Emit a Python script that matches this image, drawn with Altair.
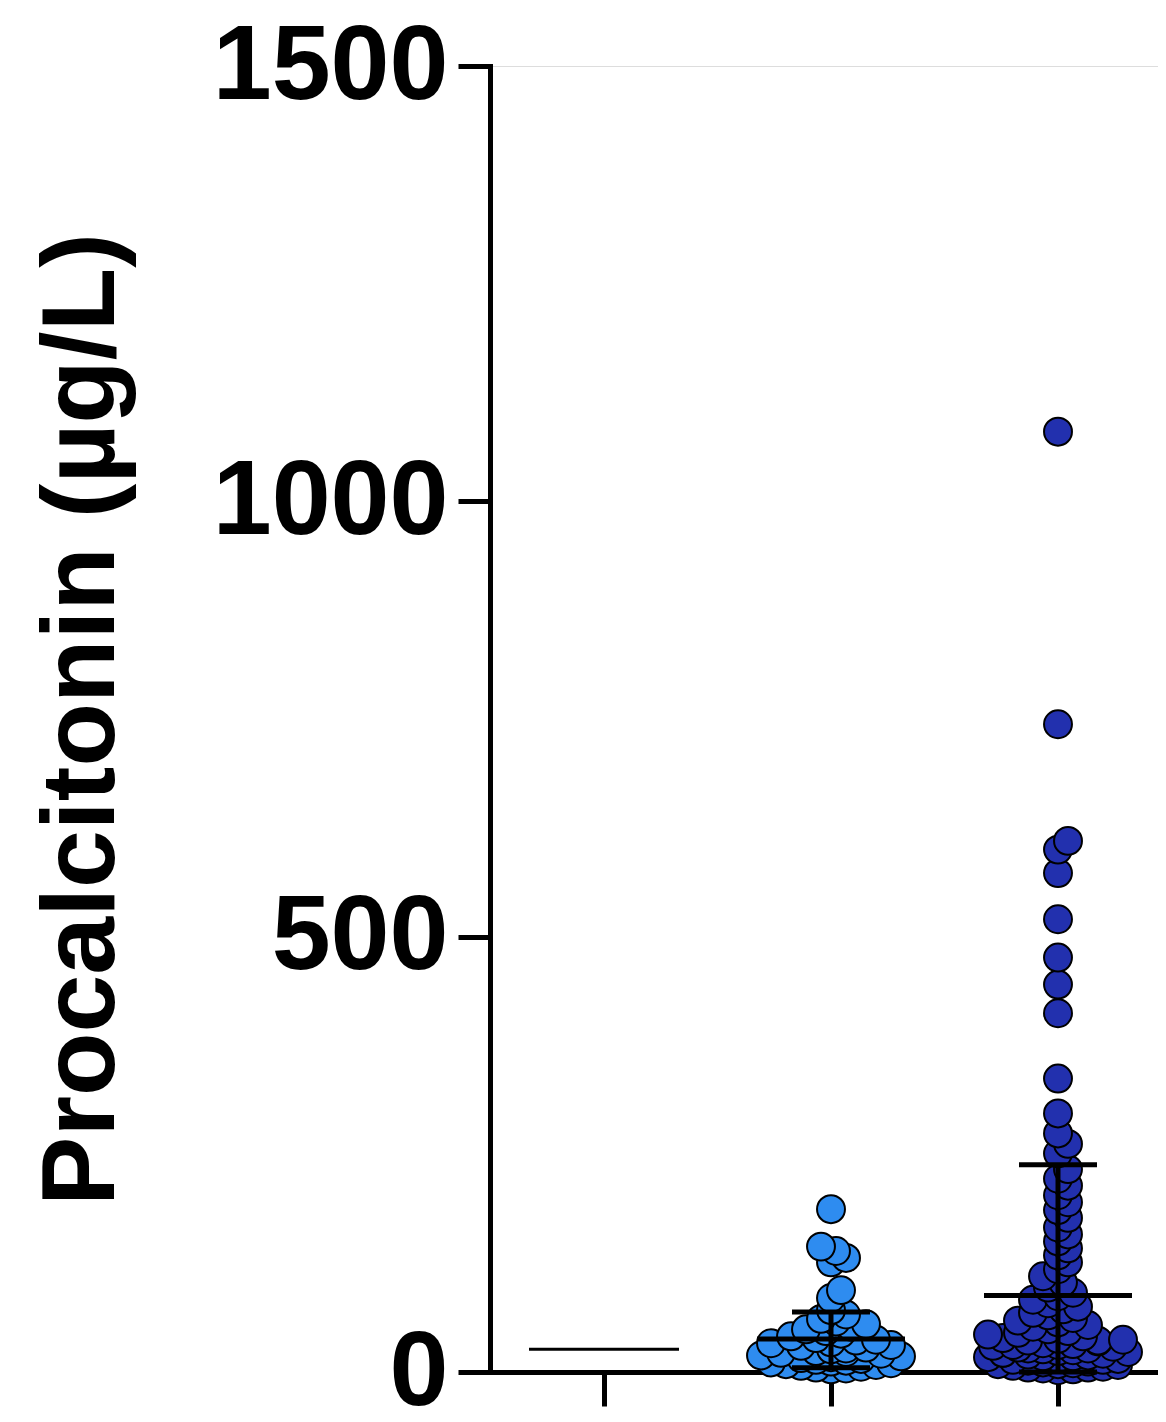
import altair as alt
import pandas as pd
import math

# ---- data ----
groups = ["Group 1", "Group 2", "Group 3"]
group_colors = ["#2E8CF0", "#2E8CF0", "#2230AE"]

group2_values = [187, 144, 139, 131, 126, 94, 85, 71, 66, 61, 58, 55, 52, 49, 47,
                 44, 41, 39, 37, 36, 34, 33, 31, 30, 28, 27, 26, 24, 23, 22, 21,
                 19, 18, 17, 16, 15, 14, 13, 12, 11, 10, 9, 8, 7, 6, 5, 4, 3]

group3_values = [1080, 744, 610, 600, 573, 520, 476, 445, 412, 337, 297, 274, 262, 251,
                 233, 222, 214, 203, 195, 186, 177, 166, 158, 150, 142, 134, 126, 118,
                 110, 103, 97, 91,
                 87, 83, 79, 75, 72, 68, 65, 62, 59, 57, 54, 52, 49, 47, 45, 43, 41, 39,
                 38, 37, 36, 35, 33, 32, 31, 30, 29, 28, 27, 26, 25, 24, 23, 22, 21, 20,
                 19, 18, 17, 16, 15, 14, 13, 12, 11, 10, 9, 8, 7, 6, 5, 4, 3, 2,
                 36, 31, 27, 22, 18, 14, 9, 5]

mean_values = [26, 38, 88]
sd_upper = [None, 69, 238]
sd_lower = [None, 5, 0]

y_ticks = [0, 500, 1000, 1500]
y_title = "Procalcitonin (µg/L)"

# ---- layout constants ----
PLOT_W = 668
PLOT_H = 1306
Y_MAX = 1500
PX_PER_GROUP = 227
FIRST_OFFSET = 114
X_DOMAIN = [-FIRST_OFFSET / PX_PER_GROUP, (PLOT_W - FIRST_OFFSET) / PX_PER_GROUP]
PX_PER_UNIT = PLOT_H / Y_MAX
FONT = "Liberation Sans"


def swarm(values, dmin=12.0, step=5.0, max_off=74.0):
    """Simple beeswarm: horizontal offsets (in group units), overlap allowed."""
    cands = [0.0]
    n = 1
    while n * step <= max_off:
        cands += [n * step, -n * step]
        n += 1
    placed = []
    out = []
    for v in sorted(values):
        y = v * PX_PER_UNIT
        best, best_cnt = None, None
        for off in cands:
            cnt = sum(1 for (px, py) in placed if math.hypot(px - off, py - y) < dmin)
            if cnt == 0:
                best = off
                break
            if best_cnt is None or cnt < best_cnt:
                best, best_cnt = off, cnt
        placed.append((best, y))
        out.append((v, best / PX_PER_GROUP))
    return out


rows = []
for gi, vals in [(1, group2_values), (2, group3_values)]:
    for v, off in swarm(vals):
        rows.append({"group": groups[gi], "gidx": gi, "x": gi + off, "value": v})
points = pd.DataFrame(rows)

means = pd.DataFrame({"group": groups, "gidx": [0, 1, 2], "mean": mean_values})
sds = pd.DataFrame({"group": groups[1:], "gidx": [1, 2],
                    "lo": sd_lower[1:], "hi": sd_upper[1:]})

xscale = alt.Scale(domain=X_DOMAIN, nice=False, zero=False)
yscale = alt.Scale(domain=[0, Y_MAX], nice=False)

x_axis = alt.Axis(values=[0, 1, 2], labels=False, title=None, grid=False,
                  tickSize=34, tickWidth=5, domainWidth=5, tickColor="black",
                  domainColor="black", domainCap="square")
y_axis = alt.Axis(values=y_ticks, format="d", grid=False, title=y_title,
                  tickSize=32, tickWidth=5, domainWidth=5, tickColor="black",
                  domainColor="black", domainCap="square",
                  labelFont=FONT, labelFontSize=106, labelFontWeight="bold",
                  labelColor="black", labelPadding=10, labelLimit=600,
                  titleFont=FONT, titleFontSize=104, titleFontWeight="bold",
                  titleColor="black", titlePadding=155, titleLimit=2000)

base_pts = alt.Chart(points).mark_circle(
    size=780, opacity=1, stroke="black", strokeWidth=2, clip=False
).encode(
    x=alt.X("x:Q", scale=xscale, axis=x_axis),
    y=alt.Y("value:Q", scale=yscale, axis=y_axis),
    color=alt.Color("group:N", scale=alt.Scale(domain=groups, range=group_colors), legend=None),
)

vert = alt.Chart(sds).mark_rule(color="black", strokeWidth=5).encode(
    x=alt.X("gidx:Q", scale=xscale),
    y=alt.Y("lo:Q", scale=yscale),
    y2="hi:Q",
)

tick_style = dict(orient="horizontal", color="black", opacity=1)
caps_hi = alt.Chart(sds).mark_tick(size=78, thickness=5, **tick_style).encode(
    x=alt.X("gidx:Q", scale=xscale),
    y=alt.Y("hi:Q", scale=yscale),
)
caps_lo = alt.Chart(sds).mark_tick(size=78, thickness=5, **tick_style).encode(
    x=alt.X("gidx:Q", scale=xscale),
    y=alt.Y("lo:Q", scale=yscale),
)
mean_main = alt.Chart(means[means.gidx > 0]).mark_tick(size=148, thickness=5, **tick_style).encode(
    x=alt.X("gidx:Q", scale=xscale),
    y=alt.Y("mean:Q", scale=yscale),
)
mean_g1 = alt.Chart(means[means.gidx == 0]).mark_tick(size=150, thickness=3, **tick_style).encode(
    x=alt.X("gidx:Q", scale=xscale),
    y=alt.Y("mean:Q", scale=yscale),
)

chart = alt.layer(base_pts, vert, caps_hi, caps_lo, mean_main, mean_g1).properties(
    width=PLOT_W, height=PLOT_H,
    autosize=alt.AutoSizeParams(type="none"),
    padding={"left": 482, "top": 58, "right": 0, "bottom": 40},
).configure_view(stroke=None).configure(background="white")

chart.save("out.html", embed_options={"renderer": "svg", "actions": False})
